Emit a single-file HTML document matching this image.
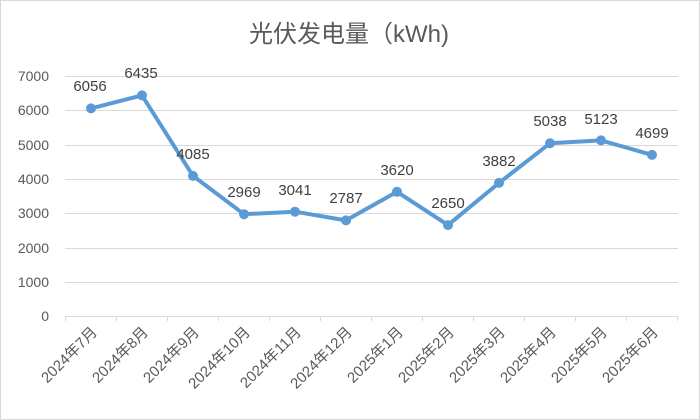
<!DOCTYPE html>
<html><head><meta charset="utf-8"><style>body{margin:0;background:#fff}svg{display:block}</style></head><body>
<svg width="700" height="420" xmlns="http://www.w3.org/2000/svg" font-family="Liberation Sans, Noto Sans CJK SC, sans-serif">
<rect x="0.5" y="0.5" width="699" height="419" fill="#fff" stroke="#d9d9d9"/>
<text x="349" y="42" text-anchor="middle" font-size="24" fill="#595959">光伏发电量（kWh)</text>
<g stroke="#d9d9d9" stroke-width="1">
<line x1="65" x2="678" y1="76.5" y2="76.5"/><line x1="65" x2="678" y1="110.5" y2="110.5"/>
<line x1="65" x2="678" y1="145.5" y2="145.5"/><line x1="65" x2="678" y1="179.5" y2="179.5"/>
<line x1="65" x2="678" y1="213.5" y2="213.5"/><line x1="65" x2="678" y1="248.5" y2="248.5"/>
<line x1="65" x2="678" y1="282.5" y2="282.5"/><line x1="65" x2="678" y1="316.5" y2="316.5"/>
</g>
<g stroke="#d9d9d9"><line x1="65.5" x2="65.5" y1="316" y2="321"/><line x1="116.5" x2="116.5" y1="316" y2="321"/><line x1="167.5" x2="167.5" y1="316" y2="321"/><line x1="218.5" x2="218.5" y1="316" y2="321"/><line x1="269.5" x2="269.5" y1="316" y2="321"/><line x1="320.5" x2="320.5" y1="316" y2="321"/><line x1="371.5" x2="371.5" y1="316" y2="321"/><line x1="422.5" x2="422.5" y1="316" y2="321"/><line x1="473.5" x2="473.5" y1="316" y2="321"/><line x1="524.5" x2="524.5" y1="316" y2="321"/><line x1="575.5" x2="575.5" y1="316" y2="321"/><line x1="626.5" x2="626.5" y1="316" y2="321"/><line x1="677.5" x2="677.5" y1="316" y2="321"/></g>
<g font-size="14" fill="#595959" text-anchor="end">
<text x="49" y="81">7000</text><text x="49" y="115">6000</text><text x="49" y="150">5000</text><text x="49" y="184">4000</text><text x="49" y="218">3000</text><text x="49" y="253">2000</text><text x="49" y="287">1000</text><text x="49" y="321">0</text>
</g>
<polyline fill="none" stroke="#5b9bd5" stroke-width="4" stroke-linejoin="round" points="91,108.4 142,95.4 193,175.9 244,214.2 295,211.7 346,220.4 397,191.8 448,225.1 499,182.9 550,143.3 601,140.4 652,154.9"/>
<g fill="#5b9bd5"><circle cx="91" cy="108.4" r="5"/><circle cx="142" cy="95.4" r="5"/><circle cx="193" cy="175.9" r="5"/><circle cx="244" cy="214.2" r="5"/><circle cx="295" cy="211.7" r="5"/><circle cx="346" cy="220.4" r="5"/><circle cx="397" cy="191.8" r="5"/><circle cx="448" cy="225.1" r="5"/><circle cx="499" cy="182.9" r="5"/><circle cx="550" cy="143.3" r="5"/><circle cx="601" cy="140.4" r="5"/><circle cx="652" cy="154.9" r="5"/></g>
<g font-size="15" fill="#404040" text-anchor="middle">
<text x="90" y="91">6056</text><text x="141" y="78">6435</text><text x="193" y="159">4085</text><text x="244" y="197">2969</text><text x="295" y="195">3041</text><text x="346" y="203">2787</text><text x="397" y="175">3620</text><text x="448" y="208">2650</text><text x="499" y="166">3882</text><text x="550" y="126">5038</text><text x="601" y="124">5123</text><text x="652" y="138">4699</text>
</g>
<g font-size="15" fill="#595959" text-anchor="end">
<text transform="translate(98,333) rotate(-45)">2024年7月</text>
<text transform="translate(149,333) rotate(-45)">2024年8月</text>
<text transform="translate(200,333) rotate(-45)">2024年9月</text>
<text transform="translate(251,333) rotate(-45)">2024年10月</text>
<text transform="translate(302,333) rotate(-45)">2024年11月</text>
<text transform="translate(353,333) rotate(-45)">2024年12月</text>
<text transform="translate(404,333) rotate(-45)">2025年1月</text>
<text transform="translate(455,333) rotate(-45)">2025年2月</text>
<text transform="translate(506,333) rotate(-45)">2025年3月</text>
<text transform="translate(557,333) rotate(-45)">2025年4月</text>
<text transform="translate(608,333) rotate(-45)">2025年5月</text>
<text transform="translate(659,333) rotate(-45)">2025年6月</text>
</g>
</svg>
</body></html>
